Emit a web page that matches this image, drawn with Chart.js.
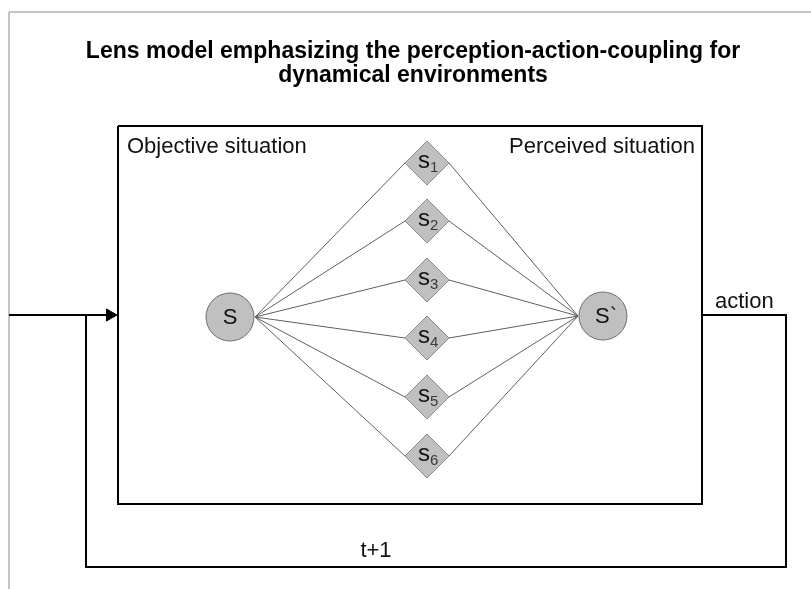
<!DOCTYPE html>
<html>
<head>
<meta charset="utf-8">
<title>Lens model</title>
<script src="https://cdn.jsdelivr.net/npm/chart.js@4/dist/chart.umd.min.js"></script>
<style>
  html, body { margin: 0; padding: 0; background: #ffffff; }
  canvas { display: block; }
</style>
</head>
<body>
<canvas id="lensChart" width="811" height="589"></canvas>
<script>
// diagram values (coordinate plane 0..811 x 0..589, y runs downward)
const titleLines = ['Lens model emphasizing the perception-action-coupling for', 'dynamical environments'];
const regionLabels = ['Objective situation', 'Perceived situation'];
const nodeLabels = ['S', 'S`'];
const nodeX = [230, 603];
const nodeY = [317, 316];
const cueLabels = ['1', '2', '3', '4', '5', '6'];
const cueX = 427;
const cueY = [163, 221, 280, 338, 397, 456];
const lensBox = [[118, 126], [702, 126], [702, 504], [118, 504], [118, 126]];
const feedbackLoop = [[702, 315], [786, 315], [786, 567], [86, 567], [86, 315]];
const inputLine = [[9, 315], [112, 315]];
const frameLine = [[9, 589], [9, 12], [811, 12]];
const loopLabels = ['action', 't+1'];

const nodeR = 24;
const cueR = 22;

function pts(list) {
    return list.map(p => ({ x: p[0], y: p[1] }));
}

function lineSet(data, color, width, order) {
    return {
        data: data,
        showLine: true,
        borderColor: color,
        borderWidth: width,
        pointRadius: 0,
        pointHoverRadius: 0,
        fill: false,
        tension: 0,
        clip: false,
        order: order
    };
}

const datasets = [];

// S and S` circles
datasets.push({
    data: nodeX.map((x, i) => ({ x: x, y: nodeY[i] })),
    pointStyle: 'circle',
    pointRadius: nodeR,
    pointHoverRadius: nodeR,
    backgroundColor: '#c0c0c0',
    borderColor: '#6e6e6e',
    borderWidth: 1,
    showLine: false,
    clip: false,
    order: 0
});

// cue diamonds
datasets.push({
    data: cueY.map(y => ({ x: cueX, y: y })),
    pointStyle: 'rectRot',
    pointRadius: cueR,
    pointHoverRadius: cueR,
    backgroundColor: '#c0c0c0',
    borderColor: '#8a8a8a',
    borderWidth: 1,
    showLine: false,
    clip: false,
    order: 0
});

// arrow head into the lens box
datasets.push({
    data: [{ x: inputLine[1][0] - 2, y: inputLine[1][1] }],
    pointStyle: 'triangle',
    rotation: 90,
    pointRadius: 7,
    pointHoverRadius: 7,
    backgroundColor: '#000000',
    borderColor: '#000000',
    borderWidth: 1,
    showLine: false,
    clip: false,
    order: 0
});

// links S -> cue -> S`
cueY.forEach(y => {
    datasets.push(lineSet([
        { x: nodeX[0] + nodeR + 1, y: nodeY[0] },
        { x: cueX - cueR, y: y },
        { x: cueX + cueR, y: y },
        { x: nodeX[1] - nodeR - 1, y: nodeY[1] }
    ], '#5f5f5f', 1, 5));
});

datasets.push(lineSet(pts(lensBox), '#000000', 2, 3));
datasets.push(lineSet(pts(feedbackLoop), '#000000', 2, 3));
datasets.push(lineSet(pts(inputLine), '#000000', 2, 3));
datasets.push(lineSet(pts(frameLine), '#8c8c8c', 1, 3));

const textPlugin = {
    id: 'diagramText',
    afterDatasetsDraw(chart) {
        const ctx = chart.ctx;
        const xs = chart.scales.x;
        const ys = chart.scales.y;
        const px = v => xs.getPixelForValue(v);
        const py = v => ys.getPixelForValue(v);
        ctx.save();
        ctx.fillStyle = '#000000';
        ctx.textBaseline = 'alphabetic';

        // title
        ctx.font = 'bold 23px "Liberation Sans", Arial, sans-serif';
        ctx.textAlign = 'center';
        ctx.fillText(titleLines[0], px(413), py(58));
        ctx.fillText(titleLines[1], px(413), py(82));

        ctx.font = '22px "Liberation Sans", Arial, sans-serif';
        ctx.fillStyle = '#111111';
        ctx.textAlign = 'left';
        ctx.fillText(regionLabels[0], px(127), py(153));
        ctx.textAlign = 'right';
        ctx.fillText(regionLabels[1], px(695), py(153));
        ctx.textAlign = 'left';
        ctx.fillText(loopLabels[0], px(715), py(308));
        ctx.textAlign = 'center';
        ctx.fillText(loopLabels[1], px(376), py(557));

        // node letters
        ctx.textBaseline = 'middle';
        nodeLabels.forEach((t, i) => {
            ctx.fillText(t, px(nodeX[i]) + (i === 1 ? 3 : 0), py(nodeY[i]) + 1);
        });

        // cue labels with subscripts
        ctx.textBaseline = 'alphabetic';
        cueLabels.forEach((n, i) => {
            ctx.textAlign = 'right';
            ctx.font = '24px "Liberation Sans", Arial, sans-serif';
            ctx.fillStyle = '#111111';
            ctx.fillText('s', px(cueX) + 3, py(cueY[i]) + 5);
            ctx.textAlign = 'left';
            ctx.font = '15px "Liberation Sans", Arial, sans-serif';
            ctx.fillStyle = '#3a3a3a';
            ctx.fillText(n, px(cueX) + 3, py(cueY[i]) + 9);
        });
        ctx.restore();
    }
};

new Chart(document.getElementById('lensChart').getContext('2d'), {
    type: 'scatter',
    data: { datasets: datasets },
    options: {
        responsive: false,
        animation: false,
        events: [],
        layout: { padding: 0, autoPadding: false },
        scales: {
            x: { type: 'linear', min: 0, max: 811, display: false },
            y: { type: 'linear', min: 0, max: 589, reverse: true, display: false }
        },
        plugins: {
            legend: { display: false },
            tooltip: { enabled: false },
            title: { display: false }
        }
    },
    plugins: [textPlugin]
});
</script>
</body>
</html>
